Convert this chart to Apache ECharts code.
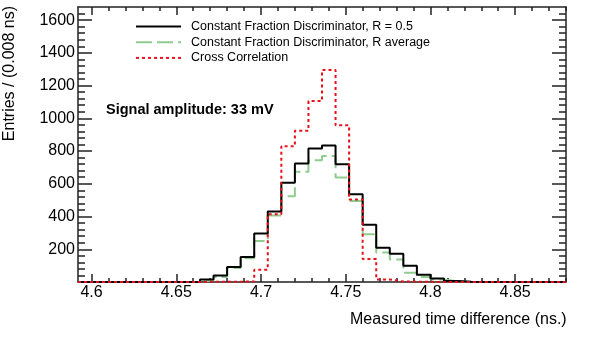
<!DOCTYPE html>
<html>
<head>
<meta charset="utf-8">
<script src="https://cdn.jsdelivr.net/npm/echarts@6/dist/echarts.min.js"></script>
<style>
  html, body { margin: 0; padding: 0; background: #fff; }
  #draw { width: 608px; height: 341px; }
</style>
</head>
<body>
<div id="draw"></div>
<script>
  // binning of the histograms (ns)
  var binLow = 4.592
  var binWidth = 0.008
  var xMin = 4.592
  var xMax = 4.88
  var yMin = 0
  var yMax = 1680

  var xTicks = [4.6, 4.65, 4.7, 4.75, 4.8, 4.85]
  var yTicks = [200, 400, 600, 800, 1000, 1200, 1400, 1600]

  var names = ['Constant Fraction Discriminator, R = 0.5', 'Constant Fraction Discriminator, R average', 'Cross Correlation']

  // entries per bin, first bin starts at binLow
  var cfdHalf = [0, 0, 0, 0, 0, 0, 0, 0, 0, 15, 40, 92, 153, 296, 430, 606, 724, 816, 834, 720, 536, 349, 210, 172, 100, 45, 22, 6, 2, 0, 0, 0, 0, 0, 0, 0]
  var cfdAvg = [0, 0, 0, 0, 0, 0, 0, 0, 0, 10, 30, 85, 145, 250, 407, 524, 673, 744, 769, 638, 495, 292, 180, 137, 57, 31, 15, 5, 1, 0, 0, 0, 0, 0, 0, 0]
  var crossCorr = [0, 0, 0, 0, 0, 0, 0, 0, 0, 2, 2, 2, 3, 75, 414, 830, 924, 1105, 1295, 957, 504, 140, 15, 3, 2, 1, 0, 0, 0, 0, 0, 0, 0, 0, 0, 0]

  var font = 'Liberation Sans, Arial, Helvetica, sans-serif'
  var frame = { color: '#222', width: 1.5 }

  // step points at bin edges, last edge repeats the last bin
  function toSteps (vals) {
    var pts = []
    for (var i = 0; i <= vals.length; i++) {
      var x = +(binLow + i * binWidth).toFixed(3)
      pts.push([x, vals[Math.min(i, vals.length - 1)]])
    }
    return pts
  }

  // minor tick positions (every 0.01 ns on x, every 40 on y)
  var xMinor = []
  for (var k = 0; k <= 28; k++) xMinor.push(+(4.6 + k * 0.01).toFixed(2))
  var yMinor = []
  for (var m = 1; m <= 41; m++) yMinor.push(m * 40)

  function xAx (pos, ticks, len, withLine, withLabel) {
    return {
      type: 'value', min: xMin, max: xMax, position: pos,
      axisLine: { show: withLine, onZero: false, lineStyle: frame },
      axisTick: { show: true, inside: true, length: len, customValues: ticks, lineStyle: frame },
      axisLabel: withLabel ? {
        show: true, customValues: ticks, margin: 3, color: '#000', fontSize: 16, fontFamily: font,
        formatter: function (v) { return String(+v.toFixed(2)) }
      } : { show: false },
      splitLine: { show: false }
    }
  }
  function yAx (pos, ticks, len, withLine, withLabel) {
    return {
      type: 'value', min: yMin, max: yMax, position: pos,
      axisLine: { show: withLine, onZero: false, lineStyle: frame },
      axisTick: { show: true, inside: true, length: len, customValues: ticks, lineStyle: frame },
      axisLabel: withLabel ? {
        show: true, customValues: ticks, margin: 3, color: '#000', fontSize: 16, fontFamily: font,
        formatter: function (v) { return String(v) }
      } : { show: false },
      splitLine: { show: false }
    }
  }

  function histo (name, vals, color, type, z) {
    return {
      name: name,
      type: 'line',
      step: 'end',
      symbol: 'none',
      z: z,
      xAxisIndex: 0,
      yAxisIndex: 0,
      lineStyle: { color: color, width: 2, type: type },
      itemStyle: { color: color },
      data: toSteps(vals)
    }
  }

  var myChart = echarts.init(document.getElementById('draw'), null, { renderer: 'canvas' })
  myChart.setOption({
    animation: false,
    grid: { left: 78, right: 42, top: 7, bottom: 59, containLabel: false },
    legend: {
      orient: 'vertical',
      left: 135,
      top: 19.5,
      padding: 0,
      itemWidth: 45,
      itemHeight: 14,
      itemGap: 1.7,
      data: names,
      itemStyle: { opacity: 0 },
      textStyle: { fontSize: 12.5, fontFamily: font, color: '#000', padding: [0, 0, 0, 5], lineHeight: 14 }
    },
    xAxis: [
      xAx('bottom', xTicks, 8, true, true),
      xAx('bottom', xMinor, 4, false, false),
      xAx('top', xTicks, 8, true, false),
      xAx('top', xMinor, 4, false, false)
    ],
    yAxis: [
      yAx('left', yTicks, 14, true, true),
      yAx('left', yMinor, 7, false, false),
      yAx('right', yTicks, 14, true, false),
      yAx('right', yMinor, 7, false, false)
    ],
    graphic: [
      {
        type: 'text', left: 106, top: 102,
        style: { text: 'Signal amplitude: 33 mV', font: 'bold 14.5px ' + font, fill: '#000' }
      },
      {
        type: 'text', x: 566.7, y: 320,
        style: { text: 'Measured time difference (ns.)', font: '16px ' + font, fill: '#000', align: 'right', verticalAlign: 'middle' }
      },
      {
        type: 'text', x: 10, y: 6, rotation: Math.PI / 2,
        style: { text: 'Entries / (0.008 ns)', font: '16px ' + font, fill: '#000', align: 'right', verticalAlign: 'middle' }
      }
    ],
    series: [
      histo(names[0], cfdHalf, '#000000', 'solid', 3),
      histo(names[1], cfdAvg, '#8fcc8f', [16, 5], 2),
      histo(names[2], crossCorr, '#e8101a', [3, 3], 4)
    ]
  })
</script>
</body>
</html>
